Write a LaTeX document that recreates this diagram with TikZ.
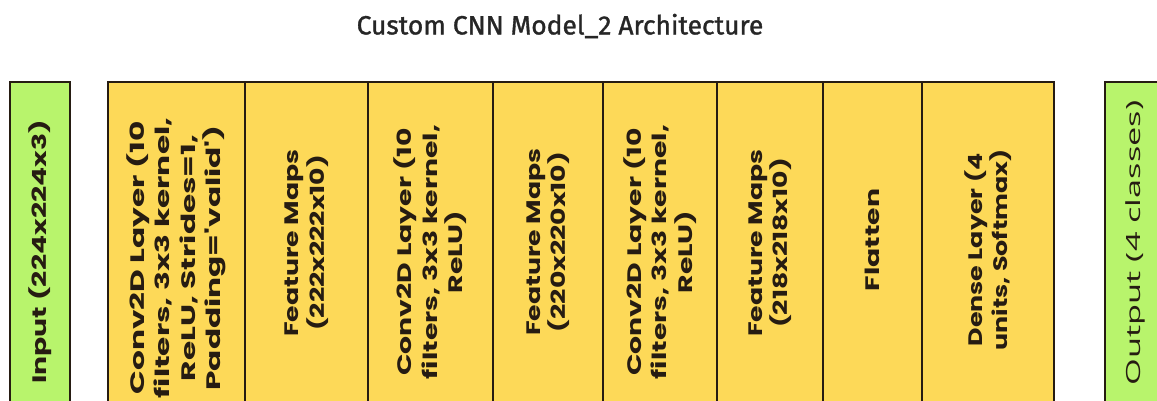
\documentclass[tikz,border=0pt]{standalone}
\usepackage{fontspec}
\newfontfamily\layerfont{Poppins}
\newfontfamily\outfont{Open Sans}
\newfontfamily\titlefont{Fira Sans}[FakeBold=1.3]
\definecolor{layeryellow}{RGB}{253,217,88}
\definecolor{iogreen}{RGB}{184,244,108}
\definecolor{edgebrown}{RGB}{38,28,18}
\begin{document}
\begin{tikzpicture}[x=1pt,y=-1pt,
  layerbox/.style={draw=edgebrown, line width=2.6pt, inner sep=0pt, minimum height=340pt},
  yel/.style={layerbox, fill=layeryellow},
  grn/.style={layerbox, fill=iogreen},
  txt/.style={rotate=90, inner sep=0pt, align=center, text=edgebrown,
    font=\layerfont\bfseries\addfontfeature{FakeStretch=#1}\fontsize{19.5}{25.5}\selectfont},
  outtxt/.style={rotate=90, inner sep=0pt, align=center, text=edgebrown,
    font=\outfont\addfontfeature{FakeStretch=#1}\fontsize{19.5}{25.5}\selectfont}]
\useasboundingbox (0,0) rectangle (1157,401);
\clip (0,0) rectangle (1157,401);
\fill[white] (0,0) rectangle (1157,401);
% title
\node[font=\titlefont\fontsize{26.4}{30}\selectfont, text=black!85] (title) at (560,26) {Custom CNN Model\_2 Architecture};
% input and output blocks
\node[grn, minimum width=60pt] (in) at (40,252) {};
\node[grn, minimum width=60pt] (out) at (1135,252) {};
% layer stack
\node[yel, minimum width=137pt] (c1) at (176.5,252) {};
\node[yel, minimum width=123pt] (f1) at (306.5,252) {};
\node[yel, minimum width=125pt] (c2) at (430.5,252) {};
\node[yel, minimum width=110pt] (f2) at (548,252) {};
\node[yel, minimum width=114pt] (c3) at (660,252) {};
\node[yel, minimum width=106pt] (f3) at (770,252) {};
\node[yel, minimum width=99pt] (fl) at (872.5,252) {};
\node[yel, minimum width=132pt] (de) at (988,252) {};
% labels, read bottom to top
\node[txt=1.45] (inT) at (in.center |- 0,252) {Input (224x224x3)};
\node[outtxt=1.76] (outT) at (out.center |- 0,243) {Output (4 classes)};
\node[txt=1.6] (c1T) at (c1.center |- 0,258) {Conv2D Layer (10\\filters, 3x3 kernel,\\ReLU, Strides=1,\\Padding='valid')};
\node[txt=1.37] (f1T) at (f1.center |- 0,243) {Feature Maps\\(222x222x10)};
\node[txt=1.45] (c2T) at (c2.center |- 0,252) {Conv2D Layer (10\\filters, 3x3 kernel,\\ReLU)};
\node[txt=1.37] (f2T) at (f2.center |- 0,242) {Feature Maps\\(220x220x10)};
\node[txt=1.45] (c3T) at (c3.center |- 0,252) {Conv2D Layer (10\\filters, 3x3 kernel,\\ReLU)};
\node[txt=1.37] (f3T) at (f3.center |- 0,243) {Feature Maps\\(218x218x10)};
\node[txt=1.45] (flT) at (fl.center |- 0,240) {Flatten};
\node[txt=1.3] (deT) at (de.center |- 0,250) {Dense Layer (4\\units, Softmax)};
\end{tikzpicture}
\end{document}
